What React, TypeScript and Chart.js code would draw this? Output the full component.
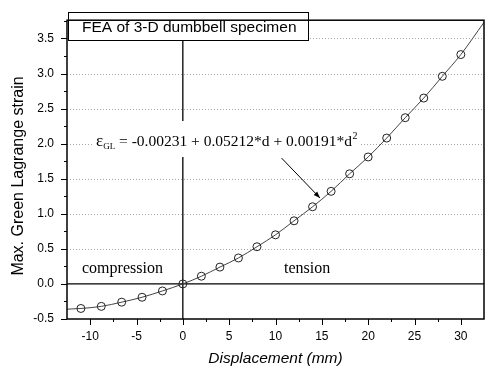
import React, { useEffect, useRef } from "react";
import { Chart, registerables } from "chart.js";

Chart.register(...registerables);

// Data
const displacement = [-11, -8.8, -6.6, -4.4, -2.2, 0, 2, 4, 6, 8, 10, 12, 14, 16, 18, 20, 22, 24, 26, 28, 30];
const strain = [-0.35, -0.32, -0.26, -0.19, -0.1, 0, 0.11, 0.24, 0.37, 0.53, 0.7, 0.9, 1.1, 1.32, 1.57, 1.81, 2.08, 2.37, 2.65, 2.96, 3.27];
// fitted curve (drawn through the points and to the plot edges)
const fitDisplacement = [-12.5, -11, -8.8, -6.6, -4.4, -2.2, 0, 2, 4, 6, 8, 10, 12, 14, 16, 18, 20, 22, 24, 26, 28, 30, 32.5];
const fitStrain = [-0.36, -0.35, -0.32, -0.26, -0.19, -0.1, 0, 0.11, 0.24, 0.37, 0.53, 0.7, 0.9, 1.1, 1.32, 1.57, 1.81, 2.08, 2.37, 2.65, 2.96, 3.27, 3.73];

const xTicks = [-10, -5, 0, 5, 10, 15, 20, 25, 30];
const yTicks = [-0.5, 0, 0.5, 1, 1.5, 2, 2.5, 3, 3.5];
const gridValues = [0.5, 1, 1.5, 2, 2.5, 3, 3.5];

const legendText = "FEA of 3-D dumbbell specimen";
const equationMain = " = -0.00231 + 0.05212*d + 0.00191*d";
const xTitle = "Displacement (mm)";
const yTitle = "Max. Green Lagrange strain";

const SANS = '"Liberation Sans", Arial, sans-serif';
const SERIF = '"Liberation Serif", "Times New Roman", serif';

const decoPlugin = {
  id: "deco",
  beforeDatasetsDraw(chart: any) {
    const { ctx, chartArea, scales } = chart;
    const { left, right, top, bottom } = chartArea;
    const x = scales.x;
    const y = scales.y;
    ctx.save();
    // dotted grid
    ctx.strokeStyle = "#a8a8a8";
    ctx.lineWidth = 1;
    ctx.setLineDash([1, 2]);
    for (const v of gridValues) {
      const py = Math.round(y.getPixelForValue(v)) + 0.5;
      ctx.beginPath();
      ctx.moveTo(left, py);
      ctx.lineTo(right, py);
      ctx.stroke();
    }
    ctx.setLineDash([]);
    // zero lines
    ctx.strokeStyle = "#000";
    ctx.lineWidth = 1.3;
    const y0 = y.getPixelForValue(0);
    ctx.beginPath();
    ctx.moveTo(left, y0);
    ctx.lineTo(right, y0);
    ctx.stroke();
    const x0 = x.getPixelForValue(0);
    ctx.beginPath();
    ctx.moveTo(x0, top);
    ctx.lineTo(x0, bottom);
    ctx.stroke();

    // equation with white background
    ctx.fillStyle = "#fff";
    ctx.fillRect(92, 121, 268, 36);
    ctx.fillStyle = "#000";
    ctx.textBaseline = "alphabetic";
    ctx.textAlign = "left";
    let ex = 96;
    const eb = 146;
    ctx.font = "17px " + SERIF;
    ctx.fillText("\u03b5", ex, eb);
    ex += ctx.measureText("\u03b5").width;
    ctx.font = "9px " + SERIF;
    ctx.fillText("GL", ex, eb + 3);
    ex += ctx.measureText("GL").width;
    ctx.font = "15.5px " + SERIF;
    ctx.fillText(equationMain, ex, eb);
    ex += ctx.measureText(equationMain).width;
    ctx.font = "10px " + SERIF;
    ctx.fillText("2", ex + 0.5, eb - 7);

    // compression / tension
    ctx.font = "16px " + SERIF;
    ctx.fillText("compression", 82, 273);
    ctx.fillText("tension", 284, 273);

    // legend box
    ctx.fillStyle = "#fff";
    ctx.fillRect(68.5, 12.5, 240, 28);
    ctx.strokeStyle = "#000";
    ctx.lineWidth = 1;
    ctx.strokeRect(68.5, 12.5, 240, 28);
    ctx.fillStyle = "#000";
    ctx.font = "15.5px " + SANS;
    ctx.fillText(legendText, 82, 32);
    ctx.restore();
  },
  afterDatasetsDraw(chart: any) {
    const { ctx, chartArea, scales } = chart;
    const { left, right, top, bottom } = chartArea;
    const x = scales.x;
    const y = scales.y;
    ctx.save();
    // frame
    ctx.strokeStyle = "#000";
    ctx.lineWidth = 1.5;
    ctx.strokeRect(left, top, right - left, bottom - top);
    // ticks
    ctx.lineWidth = 1;
    for (let v = -12.5; v <= 32.5; v += 2.5) {
      if (v <= x.min || v >= x.max) continue;
      const major = Math.abs(v % 5) < 1e-6;
      const px = Math.round(x.getPixelForValue(v)) + 0.5;
      ctx.beginPath();
      ctx.moveTo(px, bottom);
      ctx.lineTo(px, bottom + (major ? 6 : 3));
      ctx.stroke();
    }
    for (let i = -2; i <= 15; i++) {
      const v = i * 0.25;
      if (v < y.min || v > y.max) continue;
      const major = i % 2 === 0;
      const py = Math.round(y.getPixelForValue(v)) + 0.5;
      ctx.beginPath();
      ctx.moveTo(left, py);
      ctx.lineTo(left - (major ? 6 : 3), py);
      ctx.stroke();
    }
    // arrow
    const ax1 = 281.5, ay1 = 158, ax2 = 320, ay2 = 198;
    ctx.beginPath();
    ctx.moveTo(ax1, ay1);
    ctx.lineTo(ax2, ay2);
    ctx.stroke();
    const ang = Math.atan2(ay2 - ay1, ax2 - ax1);
    ctx.beginPath();
    ctx.moveTo(ax2, ay2);
    ctx.lineTo(ax2 - 7 * Math.cos(ang - 0.35), ay2 - 7 * Math.sin(ang - 0.35));
    ctx.lineTo(ax2 - 7 * Math.cos(ang + 0.35), ay2 - 7 * Math.sin(ang + 0.35));
    ctx.closePath();
    ctx.fillStyle = "#000";
    ctx.fill();
    // axis titles
    ctx.fillStyle = "#000";
    ctx.textAlign = "center";
    ctx.textBaseline = "middle";
    ctx.font = "italic 15.5px " + SANS;
    ctx.fillText(xTitle, (left + right) / 2, 359);
    ctx.save();
    ctx.translate(19, 176);
    ctx.rotate(-Math.PI / 2);
    ctx.font = "16px " + SANS;
    ctx.fillText(yTitle, 0, 0);
    ctx.restore();
    ctx.restore();
  },
};

export default function App() {
  const ref = useRef<HTMLCanvasElement>(null);
  useEffect(() => {
    document.body.style.margin = "0";
    const canvas = ref.current;
    if (!canvas) return;
    const chart = new Chart(canvas, {
      type: "scatter",
      data: {
        datasets: [
          {
            type: "scatter",
            label: "FEA",
            data: displacement.map((d, i) => ({ x: d, y: strain[i] })),
            pointStyle: "circle",
            pointRadius: 4,
            pointBorderWidth: 1,
            pointBorderColor: "#222",
            pointBackgroundColor: "rgba(0,0,0,0)",
            showLine: false,
            order: 1,
          },
          {
            type: "line",
            label: "fit",
            data: fitDisplacement.map((d, i) => ({ x: d, y: fitStrain[i] })),
            borderColor: "#444",
            borderWidth: 1,
            pointRadius: 0,
            fill: false,
            cubicInterpolationMode: "monotone",
            order: 2,
          },
        ],
      },
      options: {
        animation: false,
        responsive: false,
        devicePixelRatio: 1,
        layout: { padding: { top: 8, right: 1, left: 0, bottom: 0 } },
        plugins: {
          legend: { display: false },
          tooltip: { enabled: false },
          title: { display: false },
        },
        scales: {
          x: {
            type: "linear",
            min: -12.5,
            max: 32.5,
            afterFit: (s: any) => {
              s.height = 49;
            },
            afterBuildTicks: (s: any) => {
              s.ticks = xTicks.map((v) => ({ value: v }));
            },
            grid: { display: false, drawTicks: false },
            border: { display: false },
            ticks: {
              color: "#000",
              padding: 10,
              maxRotation: 0,
              font: { family: SANS, size: 12 },
              callback: (v: any) => String(v),
            },
          },
          y: {
            type: "linear",
            min: -0.5,
            max: 3.76,
            afterFit: (s: any) => {
              s.width = 67;
            },
            afterBuildTicks: (s: any) => {
              s.ticks = yTicks.map((v) => ({ value: v }));
            },
            grid: { display: false, drawTicks: false },
            border: { display: false },
            ticks: {
              color: "#000",
              padding: 13,
              font: { family: SANS, size: 12 },
              callback: (v: any) => Number(v).toFixed(1),
            },
          },
        },
      },
      plugins: [decoPlugin],
    } as any);
    return () => chart.destroy();
  }, []);
  return (
    <div style={{ width: 489, height: 368 }}>
      <canvas ref={ref} width={489} height={368} style={{ display: "block" }} />
    </div>
  );
}
